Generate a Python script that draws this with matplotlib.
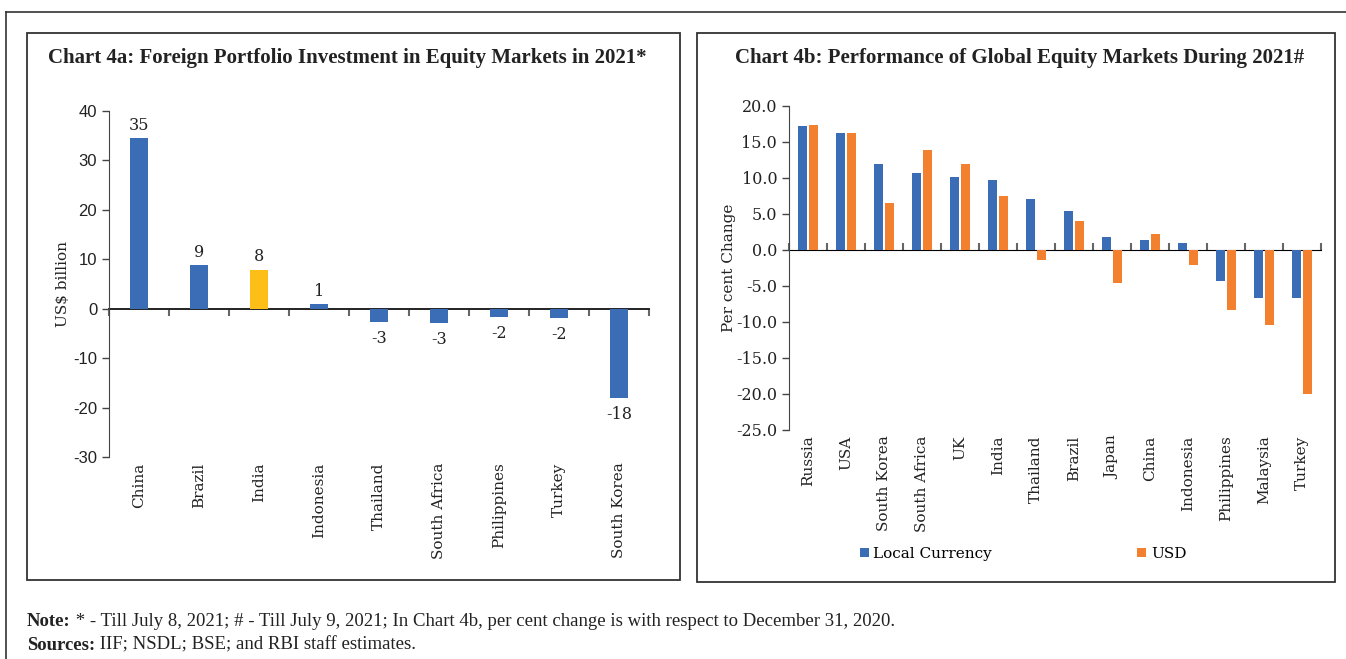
import matplotlib.pyplot as plt
import numpy as np
from matplotlib.patches import Rectangle

# Data - Chart 4a
fpi_countries = ['China', 'Brazil', 'India', 'Indonesia', 'Thailand',
                 'South Africa', 'Philippines', 'Turkey', 'South Korea']
fpi_values = [34.5, 8.9, 7.9, 1.0, -2.6, -2.8, -1.6, -1.8, -18.0]
fpi_labels = ['35', '9', '8', '1', '-3', '-3', '-2', '-2', '-18']

# Data - Chart 4b
mkt_countries = ['Russia', 'USA', 'South Korea', 'South Africa', 'UK', 'India',
                 'Thailand', 'Brazil', 'Japan', 'China', 'Indonesia',
                 'Philippines', 'Malaysia', 'Turkey']
local_ccy = [17.2, 16.3, 11.9, 10.7, 10.2, 9.7, 7.1, 5.4, 1.8, 1.4, 1.0, -4.3, -6.6, -6.7]
usd = [17.4, 16.3, 6.5, 13.9, 11.9, 7.5, -1.4, 4.0, -4.6, 2.2, -2.1, -8.3, -10.4, -20.0]

BLUE = '#3a6db5'
ORANGE = '#f2802f'
YELLOW = '#fdbe17'
SERIF = ['DejaVu Serif']
TSERIF = ['Liberation Serif', 'DejaVu Serif']
SANS = ['Liberation Sans Narrow', 'Liberation Sans', 'DejaVu Sans']
AXC = '#444444'

W, H = 1346, 659
fig = plt.figure(figsize=(W / 100, H / 100), dpi=100)


def px_axes(l, t, r, b):
    return fig.add_axes([l / W, 1 - b / H, (r - l) / W, (b - t) / H])


def box(l, t, r, b, lw=1.3):
    fig.add_artist(Rectangle((l / W, 1 - b / H), (r - l) / W, (b - t) / H,
                             transform=fig.transFigure, fill=False,
                             edgecolor='#333333', linewidth=lw))


# outer frame and panel boxes
fig.add_artist(plt.Line2D([6 / W, 6 / W], [0, 1 - 12 / H], transform=fig.transFigure,
                          color='#333333', linewidth=1.2))
fig.add_artist(plt.Line2D([6 / W, 1], [1 - 12 / H, 1 - 12 / H], transform=fig.transFigure,
                          color='#333333', linewidth=1.2))
box(27, 33, 680, 580)
box(697, 33, 1335, 582)


def style_axes(ax, ymin, ymax):
    ax.set_ylim(ymin, ymax)
    for s in ['top', 'right', 'bottom']:
        ax.spines[s].set_visible(False)
    ax.spines['left'].set_color(AXC)
    ax.tick_params(axis='y', direction='out', length=5, color=AXC, width=1)
    ax.tick_params(axis='x', length=0, pad=4)
    frac0 = (0 - ymin) / (ymax - ymin)
    sec = ax.secondary_xaxis(frac0)
    sec.spines['bottom'].set_color('#222222')
    sec.spines['bottom'].set_linewidth(1.4)
    sec.tick_params(direction='out', length=5, color='#666666', width=1.5,
                    labelbottom=False, labeltop=False)
    return sec


# ---------------- Chart 4a ----------------
ax1 = px_axes(109, 111, 649, 457)
n1 = len(fpi_countries)
x1 = np.arange(n1)
colors1 = [YELLOW if c == 'India' else BLUE for c in fpi_countries]
bars = ax1.bar(x1, fpi_values, width=0.31, color=colors1)
ax1.set_xlim(-0.5, n1 - 0.5)
sec1 = style_axes(ax1, -30, 40)
sec1.set_xticks(np.arange(n1 + 1) - 0.5, [''] * (n1 + 1))
ax1.set_yticks(np.arange(-30, 41, 10))
ax1.set_yticklabels([str(v) for v in range(-30, 41, 10)], family=SANS, fontsize=12, color='#222222')
ax1.set_xticks(x1)
ax1.set_xticklabels(fpi_countries, rotation=90, family=SERIF, fontsize=11, va='top', color='#222222')
ax1.set_ylabel('US$ billion', family=SERIF, fontsize=11, color='#222222', labelpad=2)
for xi, v, lab in zip(x1, fpi_values, fpi_labels):
    if v >= 0:
        ax1.annotate(lab, (xi, v), xytext=(0, 3), textcoords='offset points',
                     ha='center', va='bottom', family=SERIF, fontsize=11.5, color='#222222')
    else:
        ax1.annotate(lab, (xi, v), xytext=(0, -6), textcoords='offset points',
                     ha='center', va='top', family=SERIF, fontsize=11.5, color='#222222')

fig.text(48 / W, 1 - 58 / H,
         'Chart 4a: Foreign Portfolio Investment in Equity Markets in 2021*',
         family=TSERIF, fontweight='bold', fontsize=15, va='center', ha='left', color='#222222')

# ---------------- Chart 4b ----------------
ax2 = px_axes(789, 106, 1321, 430)
n2 = len(mkt_countries)
x2 = np.arange(n2)
bw = 0.22
ax2.bar(x2 - 0.148, local_ccy, width=bw, color=BLUE, label='Local Currency')
ax2.bar(x2 + 0.148, usd, width=bw, color=ORANGE, label='USD')
ax2.set_xlim(-0.5, n2 - 0.5)
sec2 = style_axes(ax2, -25, 20)
sec2.set_xticks(np.arange(n2 + 1) - 0.5, [''] * (n2 + 1))
yt = np.arange(-25, 20.1, 5)
ax2.set_yticks(yt)
ax2.set_yticklabels([f'{v:.1f}' for v in yt], family=SERIF, fontsize=11.5, color='#222222')
ax2.set_xticks(x2)
ax2.set_xticklabels(mkt_countries, rotation=90, family=SERIF, fontsize=11, va='top', color='#222222')
ax2.set_ylabel('Per cent Change', family=SERIF, fontsize=11, color='#222222', labelpad=0)
ax2.legend(loc='center', bbox_to_anchor=(1023 / W, 1 - 554 / H), bbox_transform=fig.transFigure,
           ncol=2, frameon=False, handlelength=0.6, handleheight=0.6, handletextpad=0.3,
           columnspacing=9.5, prop={'family': SERIF, 'size': 11})

fig.text(735 / W, 1 - 58 / H,
         'Chart 4b: Performance of Global Equity Markets During 2021#',
         family=TSERIF, fontweight='bold', fontsize=15, va='center', ha='left', color='#222222')

# ---------------- Notes ----------------
tax = fig.add_axes([0, 0, 1, 1])
tax.axis('off')
t1 = tax.text(27 / W, 1 - 622 / H, 'Note:', family=TSERIF, fontweight='bold', fontsize=13.5,
              va='center', ha='left', color='#222222')
tax.annotate(' * - Till July 8, 2021; # - Till July 9, 2021; In Chart 4b, per cent change is with respect to December 31, 2020.',
             xy=(1, 0), xycoords=t1, va='bottom', ha='left', family=TSERIF, fontsize=13.5, color='#222222')
t2 = tax.text(27 / W, 1 - 645 / H, 'Sources:', family=TSERIF, fontweight='bold', fontsize=13.5,
              va='center', ha='left', color='#222222')
tax.annotate(' IIF; NSDL; BSE; and RBI staff estimates.',
             xy=(1, 0), xycoords=t2, va='bottom', ha='left', family=TSERIF, fontsize=13.5, color='#222222')

fig.savefig('out.png', dpi=100)
